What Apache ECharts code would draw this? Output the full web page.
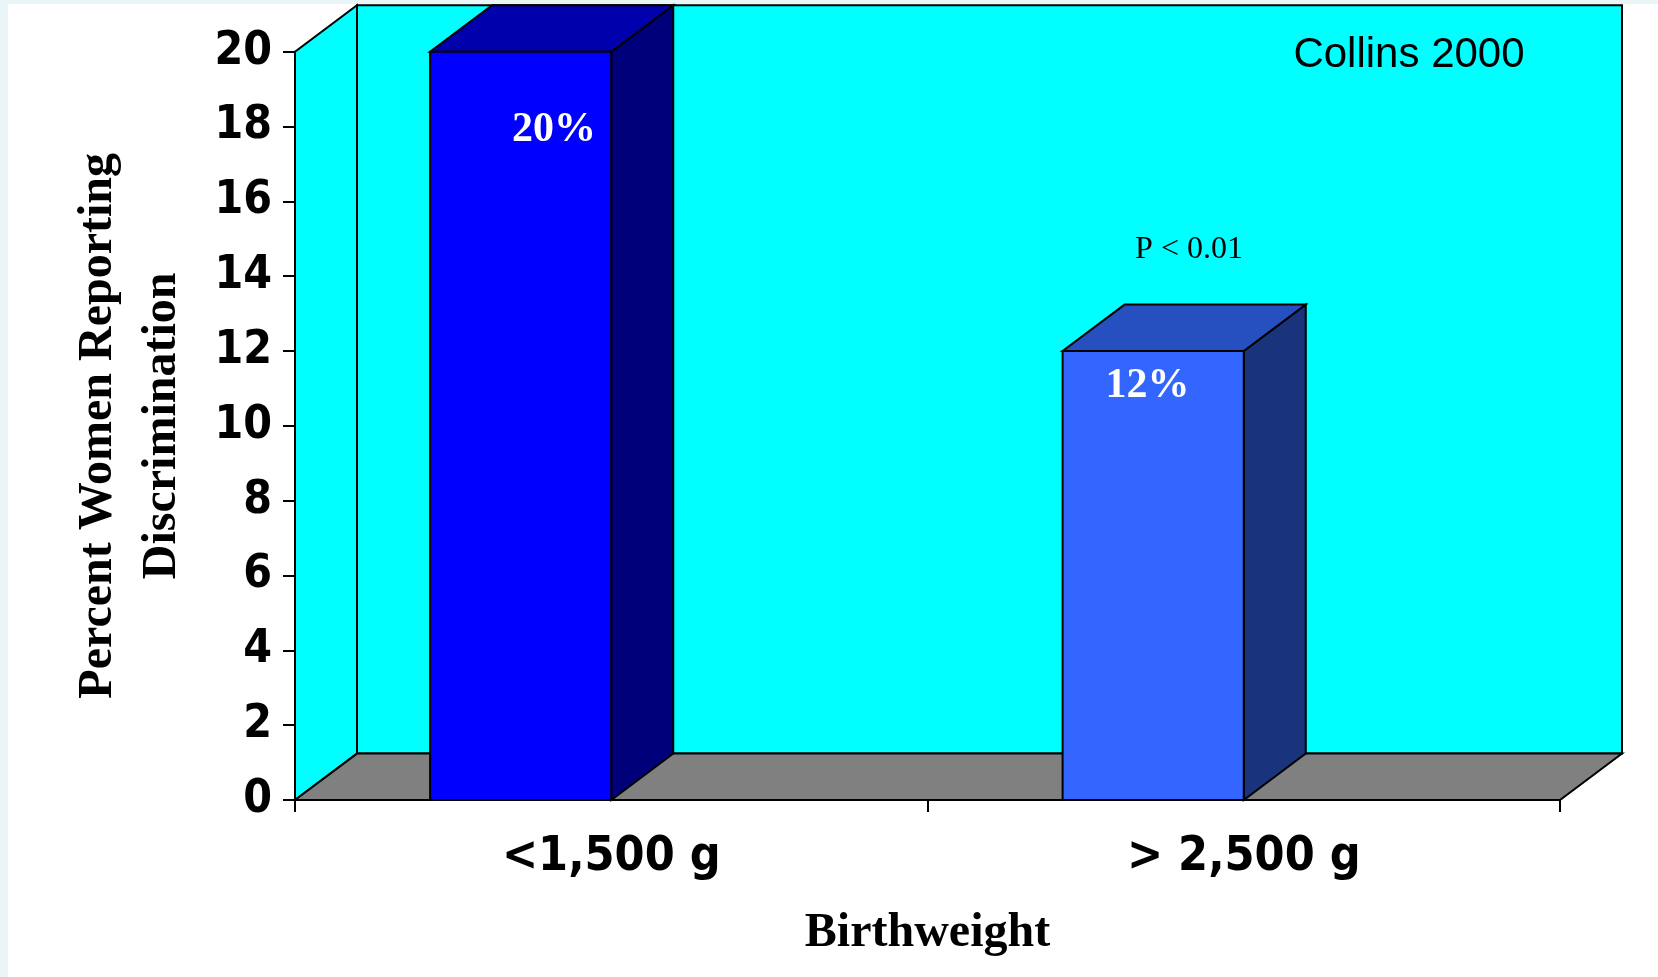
<!DOCTYPE html>
<html>
<head>
<meta charset="utf-8">
<title>Birthweight and reported discrimination</title>
<script src="https://cdn.jsdelivr.net/npm/echarts@6/dist/echarts.min.js"></script>
<style>
  html, body { margin: 0; padding: 0; background: #ffffff; }
  #chart { width: 1658px; height: 977px; }
</style>
</head>
<body>
<div id="chart"></div>
<script>
// Birthweight groups and the share of women reporting discrimination (%)
const categories = ['<1,500 g', '> 2,500 g'];
const percentReporting = [20, 12];
const yMin = 0;
const yMax = 20;
const yStep = 2;
const sourceNote = 'Collins 2000';
const significanceNote = 'P < 0.01';

// 3-D look: depth offset of the walls and bars, in pixels
const DX = 62;
const DY = 46.4;
const EDGE = { stroke: '#000000', lineWidth: 2, lineJoin: 'miter' };

// front / top / side shades of each bar
const barShades = [
  { front: '#0000FF', top: '#0000AD', side: '#00007A' },
  { front: '#3366FF', top: '#264FBF', side: '#1A337D' }
];
// where the value label sits, relative to the bar's front top-left corner
const labelShift = [[124, 78], [85, 35]];

const serif = '"Liberation Serif", "Times New Roman", serif';
const sansBold = '"DejaVu Sans Condensed", "DejaVu Sans", sans-serif';

const chart = echarts.init(document.getElementById('chart'), null, { renderer: 'canvas' });

function renderWalls(params, api) {
  const bw = api.size([1, 0])[0];
  const p0 = api.coord([0, yMin]);
  const pT = api.coord([0, yMax]);
  const pN = api.coord([categories.length - 1, yMin]);
  const left = p0[0] - bw / 2;
  const right = pN[0] + bw / 2;
  const y0 = p0[1];
  const yT = pT[1];
  return {
    type: 'group',
    children: [
      { // back wall
        type: 'rect',
        shape: { x: left + DX, y: yT - DY, width: right - left, height: y0 - yT },
        style: Object.assign({ fill: '#00FFFF' }, EDGE)
      },
      { // left side wall
        type: 'polygon',
        shape: { points: [[left, y0], [left, yT], [left + DX, yT - DY], [left + DX, y0 - DY]] },
        style: Object.assign({ fill: '#00FFFF' }, EDGE)
      },
      { // floor
        type: 'polygon',
        shape: { points: [[left, y0], [left + DX, y0 - DY], [right + DX, y0 - DY], [right, y0]] },
        style: Object.assign({ fill: '#808080' }, EDGE)
      }
    ]
  };
}

function renderBar(params, api) {
  const i = params.dataIndex;
  const v = api.value(1);
  const topPt = api.coord([api.value(0), v]);
  const basePt = api.coord([api.value(0), yMin]);
  const bw = api.size([1, 0])[0];
  const fr = topPt[0];
  const fl = fr - bw * 0.2864;
  const top = topPt[1];
  const bot = basePt[1];
  const shade = barShades[i];
  const shift = labelShift[i];
  return {
    type: 'group',
    children: [
      {
        type: 'polygon',
        shape: { points: [[fr, top], [fr, bot], [fr + DX, bot - DY], [fr + DX, top - DY]] },
        style: Object.assign({ fill: shade.side }, EDGE)
      },
      {
        type: 'polygon',
        shape: { points: [[fl, top], [fr, top], [fr + DX, top - DY], [fl + DX, top - DY]] },
        style: Object.assign({ fill: shade.top }, EDGE)
      },
      {
        type: 'rect',
        shape: { x: fl, y: top, width: fr - fl, height: bot - top },
        style: Object.assign({ fill: shade.front }, EDGE)
      },
      {
        type: 'text',
        x: fl + shift[0],
        y: top + shift[1],
        style: {
          text: v + '%',
          fill: '#ffffff',
          font: 'bold 42px ' + serif,
          align: 'center',
          verticalAlign: 'middle'
        }
      }
    ]
  };
}

const option = {
  backgroundColor: '#ffffff',
  animation: false,
  grid: { left: 295, right: 98, top: 51.7, bottom: 177, containLabel: false },
  xAxis: {
    type: 'category',
    data: categories,
    boundaryGap: true,
    z: 10,
    axisLine: { show: true, lineStyle: { color: '#000000', width: 2 } },
    axisTick: { show: true, length: 12, lineStyle: { color: '#000000', width: 2 } },
    axisLabel: {
      margin: 34,
      color: '#000000',
      fontFamily: sansBold,
      fontWeight: 'bold',
      fontSize: 48
    },
    name: 'Birthweight',
    nameLocation: 'middle',
    nameGap: 110,
    nameTextStyle: { color: '#000000', fontFamily: serif, fontWeight: 'bold', fontSize: 48 },
    splitLine: { show: false }
  },
  yAxis: {
    type: 'value',
    min: yMin,
    max: yMax,
    interval: yStep,
    z: 10,
    axisLine: { show: true, lineStyle: { color: '#000000', width: 2 } },
    axisTick: { show: true, length: 12, lineStyle: { color: '#000000', width: 2 } },
    axisLabel: {
      margin: 23,
      color: '#000000',
      fontFamily: sansBold,
      fontWeight: 'bold',
      fontSize: 46
    },
    splitLine: { show: false },
    name: 'Percent Women Reporting\nDiscrimination',
    nameLocation: 'middle',
    nameRotate: 90,
    nameGap: 100,
    nameTextStyle: {
      color: '#000000',
      fontFamily: serif,
      fontWeight: 'bold',
      fontSize: 48,
      lineHeight: 64,
      align: 'center'
    }
  },
  series: [
    {
      name: 'walls',
      type: 'custom',
      z: 1,
      silent: true,
      renderItem: renderWalls,
      data: [[0, yMin]]
    },
    {
      name: 'Percent women reporting discrimination',
      type: 'custom',
      z: 3,
      renderItem: renderBar,
      encode: { x: 0, y: 1 },
      data: percentReporting.map((v, i) => [i, v])
    }
  ],
  graphic: [
    { type: 'rect', left: 0, top: 0, z: -5, shape: { width: 8, height: 977 }, style: { fill: '#eaf5f7' } },
    { type: 'rect', left: 0, top: 0, z: -5, shape: { width: 1658, height: 4 }, style: { fill: '#eaf5f7' } },
    {
      type: 'text', z: 20, x: 1409, y: 55,
      style: { text: sourceNote, fill: '#000000', font: '42px "Liberation Sans", Arial, sans-serif', align: 'center', verticalAlign: 'middle' }
    },
    {
      type: 'text', z: 20, x: 1189, y: 250,
      style: { text: significanceNote, fill: '#000000', font: '32px ' + serif, align: 'center', verticalAlign: 'middle' }
    }
  ]
};

chart.setOption(option);
</script>
</body>
</html>
